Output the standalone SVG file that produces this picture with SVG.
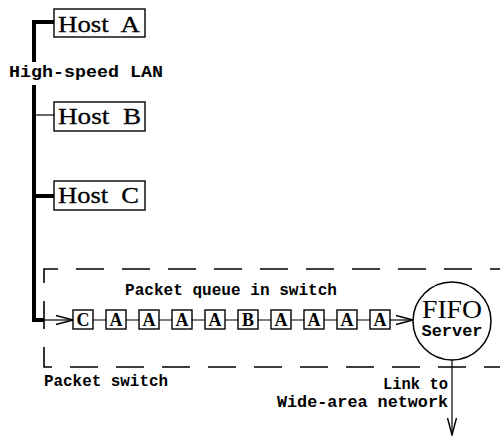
<svg xmlns="http://www.w3.org/2000/svg" width="500" height="436" viewBox="0 0 500 436">
<style>
.box{fill:#fff;stroke:#000;stroke-width:1.4}
.host{font-family:"Liberation Serif",serif;font-size:23px;fill:#000;stroke:#000;stroke-width:0.3}
.mono{font-family:"Liberation Mono",monospace;font-weight:bold;font-size:16px;fill:#000}
.pk{font-family:"Liberation Serif",serif;font-weight:bold;font-size:18px;fill:#000;text-anchor:middle}
.thick{stroke:#000;stroke-width:4;fill:none}
.thin{stroke:#000;stroke-width:1.2;fill:none}
.dash{stroke:#000;stroke-width:1.6;fill:none;stroke-dasharray:28 18;stroke-dashoffset:18}
</style>
<defs>
<marker id="chev" markerWidth="20" markerHeight="12" refX="18" refY="6" orient="auto" markerUnits="userSpaceOnUse">
<path d="M1,1.5 L18,6 L1,10.5" fill="none" stroke="#000" stroke-width="1.4"/>
</marker>
</defs>
<rect width="500" height="436" fill="#fff"/>
<g id="connectors">
<path class="thick" d="M54,22 H34 V62"/>
<path class="thick" d="M34,85 V320 H44"/>
<path class="thin" d="M34,115 H54"/>
<path class="thick" d="M34,196 H54"/>
<path class="thin" d="M44,320 H73" marker-end="url(#chev)"/>
<path class="thin" d="M93,320 H106 M126,320 H139 M159,320 H172 M192,320 H205 M225,320 H238 M258,320 H271 M291,320 H304 M324,320 H337 M357,320 H370"/>
<path class="thin" d="M390,320 H413" marker-end="url(#chev)"/>
<path class="thin" d="M452,360 V435" marker-end="url(#chev)"/>
</g>
<g id="packet-switch">
<path class="dash" d="M500,269 H44 V367 H500"/>
<text class="mono" x="44" y="386" textLength="124" lengthAdjust="spacingAndGlyphs">Packet switch</text>
</g>
<g id="lan-label">
<text class="mono" x="9" y="77" textLength="154" lengthAdjust="spacingAndGlyphs">High-speed LAN</text>
</g>
<g id="hostA">
<rect class="box" x="54" y="9" width="91" height="28"/>
<text class="host" x="58" y="32" textLength="82" lengthAdjust="spacingAndGlyphs" xml:space="preserve">Host  A</text>
</g>
<g id="hostB">
<rect class="box" x="54" y="102" width="91" height="29"/>
<text class="host" x="58" y="124" textLength="83" lengthAdjust="spacingAndGlyphs" xml:space="preserve">Host  B</text>
</g>
<g id="hostC">
<rect class="box" x="54" y="181" width="91" height="29"/>
<text class="host" x="58" y="203" textLength="81" lengthAdjust="spacingAndGlyphs" xml:space="preserve">Host  C</text>
</g>
<g id="queue-label">
<text class="mono" x="125" y="295" textLength="212" lengthAdjust="spacingAndGlyphs">Packet queue in switch</text>
</g>
<g id="p1"><rect class="box" x="73" y="310" width="20" height="19"/><text class="pk" x="83" y="326">C</text></g>
<g id="p2"><rect class="box" x="106" y="310" width="20" height="19"/><text class="pk" x="116" y="326">A</text></g>
<g id="p3"><rect class="box" x="139" y="310" width="20" height="19"/><text class="pk" x="149" y="326">A</text></g>
<g id="p4"><rect class="box" x="172" y="310" width="20" height="19"/><text class="pk" x="182" y="326">A</text></g>
<g id="p5"><rect class="box" x="205" y="310" width="20" height="19"/><text class="pk" x="215" y="326">A</text></g>
<g id="p6"><rect class="box" x="238" y="310" width="20" height="19"/><text class="pk" x="248" y="326">B</text></g>
<g id="p7"><rect class="box" x="271" y="310" width="20" height="19"/><text class="pk" x="281" y="326">A</text></g>
<g id="p8"><rect class="box" x="304" y="310" width="20" height="19"/><text class="pk" x="314" y="326">A</text></g>
<g id="p9"><rect class="box" x="337" y="310" width="20" height="19"/><text class="pk" x="347" y="326">A</text></g>
<g id="p10"><rect class="box" x="370" y="310" width="20" height="19"/><text class="pk" x="380" y="326">A</text></g>
<g id="server">
<circle cx="452" cy="321" r="39" fill="#fff" stroke="#000" stroke-width="1.5"/>
<text x="452" y="318" text-anchor="middle" font-family="Liberation Serif, serif" font-size="26" textLength="60" lengthAdjust="spacingAndGlyphs">FIFO</text>
<text class="mono" x="452" y="336" text-anchor="middle" font-size="17" textLength="61" lengthAdjust="spacingAndGlyphs">Server</text>
</g>
<g id="link-label">
<text class="mono" x="448" y="389" text-anchor="end" textLength="65" lengthAdjust="spacingAndGlyphs">Link to</text>
<text class="mono" x="448" y="407" text-anchor="end" textLength="171" lengthAdjust="spacingAndGlyphs">Wide-area network</text>
</g>
</svg>
